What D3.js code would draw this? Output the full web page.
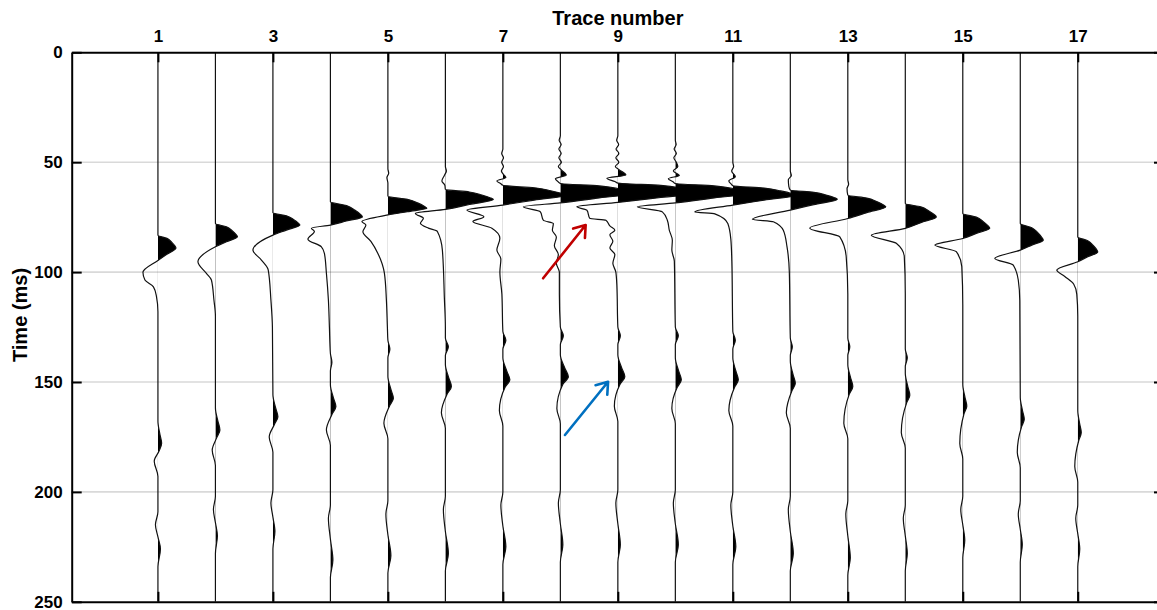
<!DOCTYPE html>
<html>
<head>
<meta charset="utf-8">
<script src="https://cdn.jsdelivr.net/npm/d3@7"></script>
<style>
  html, body { margin: 0; padding: 0; background: #fff; }
  svg { display: block; font-family: "Liberation Sans", Arial, Helvetica, sans-serif; }
</style>
</head>
<body>
<svg id="chart" width="1157" height="610"></svg>
<script>
// ---------------------------------------------------------------
// Shot gather: 17 traces, time in ms, amplitudes in relative units
// ---------------------------------------------------------------
const traceNumbers = d3.range(1, 18);
const traceTicks = [1, 3, 5, 7, 9, 11, 13, 15, 17];
const timeTicks = [0, 50, 100, 150, 200, 250];
const gridTimes = [50, 100, 150, 200];

// Direct arrival picks per trace
const directOnset      = [83.2, 77.9, 73.0, 68.0, 65.5, 62.4, 60.5, 59.7, 59.5, 59.7, 60.7, 62.7, 65.0, 68.8, 73.3, 77.9, 84.0];
const directPeakTime   = [89.0, 83.9, 78.6, 74.9, 71.0, 67.0, 65.0, 64.0, 63.8, 64.0, 65.0, 66.8, 70.3, 74.9, 80.1, 85.5, 90.8];
const directPeakAmp    = [18, 22, 27, 32, 39, 48, 63, 78, 86, 78, 63, 47, 38, 31, 27, 23, 20];
const directZeroTime   = [94.7, 88.5, 83.2, 78.6, 74.0, 71.5, 69.5, 68.5, 68.3, 68.5, 69.5, 71.8, 75.6, 80.1, 84.7, 90.0, 95.3];
const directTroughTime = [100.1, 95.3, 90.0, 85.0, 77.0, 73.3, 71.8, 70.3, 70.3, 70.3, 72.6, 76.0, 80.0, 83.2, 87.7, 93.8, 99.1];
const directTroughAmp  = [-15, -17.5, -20, -22.5, -26, -30, -36, -37, -41, -38, -38, -38, -38, -34, -28, -25.5, -21];

// Coda following the direct trough: [time, amplitude]
const directCoda = [
  [[103.6, -13], [106.7, -4.5], [111, -1.5], [118, 0]],
  [[100.6, -9], [103.6, -4], [112.7, -1.5], [120, 0]],
  [[94.5, -11.5], [99, -4.7], [112.7, -2], [125, -0.5]],
  [[80, -19], [81.5, -16], [88.5, -9], [91.5, -6], [100.5, -4], [112.7, -2], [125, -1]],
  [[78.6, -22], [81.6, -25], [86, -17], [91.5, -10], [100.5, -3.5], [112.7, -1.5], [125, -0.5]],
  [[75.5, -22], [77.8, -25], [80, -17], [81.5, -8], [90, -3], [112, -1], [125, 0]],
  [[74.8, -19], [77, -30], [80, -11], [84.6, -3], [90, -6], [94, -2], [100, -3], [110, -1]],
  [[72.6, -20], [76.4, -17], [77.9, -7], [81, -8], [84, -4], [88, -6], [92, -2], [96, -4], [100, -1], [110, -1]],
  [[71.8, -31], [75.6, -28], [76.4, -12], [79, -8], [81, -3], [83, -8], [86, -5], [89, -8], [92, -3], [96, -5], [100, -2], [106, -1]],
  [[72.6, -13], [76.4, -8], [81, -6], [85.5, -3], [90, -3.5], [95, -1]],
  [[73.5, -18], [77.9, -5], [85, -2], [95, -1]],
  [[77.1, -17], [81, -7], [88.5, -3.3], [100, -1]],
  [[84, -8], [93, -1.6], [110, 0]],
  [[86.9, -9], [93, -1], [110, 0]],
  [[90.7, -6.5], [97.5, -1], [115, 0]],
  [[96.8, -7], [103.6, -2], [113, -0.5]],
  [[102, -13], [105.5, -4], [110, -1], [120, 0]]
];

// Ringing ahead of the direct arrival on the near-source traces
const precursor = [
  [], [], [], [],
  [[53, 0], [55, 0.8], [57, -1], [59.5, 0]],
  [[52, 0], [54, 1], [56, -1], [58.5, -3.5], [60.5, -0.5]],
  [[44, 0], [46, -1.2], [48, 0.6], [50, -1.2], [52, 0.6], [54, -1.5], [55.5, 0.5], [57, 3], [58.5, -6], [59.8, -2]],
  [[38, 0], [40, -1.2], [42, 0.8], [44, -1.5], [46, 0.8], [48, -1.5], [50, 1], [52, -2], [53.5, 1], [55.8, 6], [57.5, -5], [59, -2]],
  [[38, 0], [40, -1.2], [42, 0.8], [44, -1.8], [46, 1], [48, -2], [50, 1], [52, -2.5], [53.5, 1.5], [55.8, 8], [57.3, -11], [58.8, -3]],
  [[40, 0], [42, 0.8], [44, -1.2], [46, 1], [48, -1.5], [50, 1], [52, 2.5], [54, -2], [56, 4], [57.5, -7], [59, -2]],
  [[50, 0], [52, 0.8], [54, -1.2], [56.6, 2.5], [58.5, -4], [60, -1.5]],
  [[54, 0], [56, 1], [58, -2], [61, -1.5]],
  [[58, 0], [60, 0.8], [62, -0.8]],
  [], [], [], []
];

// Weak event ahead of the reflection
const reflPreTime = [0, 0, 0, 141, 135, 134, 131, 129, 129, 129, 131, 134, 134, 139, 0, 0, 0];
const reflPreAmp  = [0, 0, 0, 1.5, 2, 3, 3, 3, 2.5, 3, 2.5, 2, 2, 2, 0, 0, 0];

// Reflection (hyperbolic moveout)
const reflTime    = [177.9, 171.8, 165.8, 161.2, 157.4, 152.0, 149.0, 147.6, 147.6, 149.0, 149.0, 150.6, 152.0, 156.0, 161.0, 167.0, 173.0];
const reflAmp     = [3.7, 4.5, 5, 5.5, 5.5, 6, 7, 8, 7, 6, 5.5, 5, 5, 4.5, 4, 4, 3.5];
const reflDipTime = [186, 181, 175, 171.8, 168.8, 164, 163, 162, 161, 162, 163, 164, 168.8, 173, 178, 182, 188.5];
const reflDipAmp  = [-3.7, -3.2, -3.7, -4, -4, -4, -3.5, -3.5, -3.5, -3.5, -4, -4, -4, -4, -3, -3, -3];

// Late weak arrivals
const lateDipTime = [215, 208, 205, 212, 210, 208, 206, 205, 205, 205, 206, 208, 210, 212, 208, 210, 212];
const lateDipAmp  = [-2.5, -2, -2, -2, -2, -2, -2, -2, -2, -2, -2, -2, -2, -2, -2, -2, -2];
const lateTime    = [226, 220, 218, 231, 229, 228, 225, 224, 224, 224, 225, 228, 230, 228, 222, 224, 226];
const lateAmp     = [2.5, 2, 2, 2.5, 3, 3, 3, 2.5, 2.5, 3, 3, 3, 2.5, 2, 2, 2, 2];

// Annotation arrows: [trace, time] from -> to
const arrows = [
  { color: "#c00000", from: [7.70, 102.8], to: [8.44, 78.6] },
  { color: "#0070c0", from: [8.08, 174.1], to: [8.83, 149.9] }
];

// ---------------------------------------------------------------
const svg = d3.select("#chart");
const x = d3.scaleLinear().domain([-0.5, 18.5]).range([71.7, 1164]);
const y = d3.scaleLinear().domain([0, 250]).range([52.3, 601.8]);
const gain = 1 / 57.5;            // relative amplitude -> trace spacing

const [xl, xr] = x.range();
const [yt, yb] = y.range();

// Knots of one trace, ordered in time
function traceKnots(i) {
  const k = [[0, 0]];
  precursor[i].forEach(p => k.push(p));
  const t0 = directOnset[i], tp = directPeakTime[i], A = directPeakAmp[i], tz = directZeroTime[i];
  const d = tp - t0;
  // shark-fin main lobe: quick rise, rounded shoulder, straight fall
  k.push([t0, 0]);
  k.push([t0 + 0.25 * d, 0.5 * A]);
  k.push([t0 + 0.55 * d, 0.76 * A]);
  k.push([t0 + 0.82 * d, 0.93 * A]);
  k.push([tp, A]);
  k.push([tp + 0.5 * (tz - tp), 0.5 * A]);
  k.push([tz, 0]);
  k.push([directTroughTime[i], directTroughAmp[i]]);
  directCoda[i].forEach(p => k.push(p));
  if (reflPreAmp[i] > 0) {
    const pt = reflPreTime[i];
    k.push([pt - 4, 0], [pt, reflPreAmp[i]], [pt + 4, 0]);
  }
  const rt = reflTime[i], ra = reflAmp[i];
  k.push([rt - 10, 0], [rt - 4, 0.55 * ra], [rt, ra], [rt + 3.5, 0.3 * ra]);
  k.push([reflDipTime[i], reflDipAmp[i]], [reflDipTime[i] + 7, 0]);
  const ld = lateDipTime[i], lt = lateTime[i];
  k.push([ld - 6, 0], [ld, lateDipAmp[i]], [(ld + lt) / 2, 0], [lt, lateAmp[i]], [lt + 8, 0]);
  k.push([250, 0]);
  k.sort((a, b) => a[0] - b[0]);
  const out = [];
  k.forEach(p => {
    if (!out.length || p[0] > out[out.length - 1][0] + 0.05) out.push(p);
  });
  return out;
}

// Grid
svg.append("g")
  .selectAll("line")
  .data(gridTimes)
  .join("line")
  .attr("x1", xl).attr("x2", xr)
  .attr("y1", d => y(d)).attr("y2", d => y(d))
  .attr("stroke", "#d9d9d9")
  .attr("stroke-width", 1.6);

// Plot clip
const defs = svg.append("defs");
defs.append("clipPath").attr("id", "plot-clip")
  .append("rect").attr("x", xl).attr("y", yt).attr("width", xr - xl).attr("height", yb - yt);

const tracesG = svg.append("g").attr("clip-path", "url(#plot-clip)");

traceNumbers.forEach((tn, i) => {
  const knots = traceKnots(i);
  const base = x(tn);
  defs.append("clipPath").attr("id", "pos-" + tn)
    .append("rect").attr("x", base).attr("y", yt).attr("width", 400).attr("height", yb - yt);

  const area = d3.area()
    .curve(d3.curveMonotoneY)
    .y(d => y(d[0]))
    .x0(base)
    .x1(d => x(tn + d[1] * gain));
  const line = d3.line()
    .curve(d3.curveMonotoneY)
    .y(d => y(d[0]))
    .x(d => x(tn + d[1] * gain));

  const g = tracesG.append("g").attr("class", "trace");
  g.append("path")
    .attr("d", area(knots))
    .attr("fill", "#000")
    .attr("clip-path", "url(#pos-" + tn + ")");
  g.append("path")
    .attr("d", line(knots))
    .attr("fill", "none")
    .attr("stroke", "#111")
    .attr("stroke-width", 1.2);
});

// Axes
function styleAxis(g) {
  g.select(".domain").attr("stroke", "#000").attr("stroke-width", 2);
  g.selectAll(".tick line").attr("stroke", "#000").attr("stroke-width", 2);
  g.selectAll(".tick text")
    .attr("fill", "#000")
    .attr("font-size", 17)
    .attr("font-weight", "bold")
    .attr("font-family", "'Liberation Sans', Arial, sans-serif");
}

svg.append("g")
  .attr("transform", `translate(0,${yt})`)
  .call(d3.axisTop(x).tickValues(traceTicks).tickSize(-10).tickSizeOuter(0).tickPadding(10))
  .call(styleAxis);

svg.append("g")
  .attr("transform", `translate(0,${yb})`)
  .call(d3.axisBottom(x).tickValues(traceTicks).tickSize(-10).tickSizeOuter(0).tickFormat(""))
  .call(styleAxis);

svg.append("g")
  .attr("transform", `translate(${xl},0)`)
  .call(d3.axisLeft(y).tickValues(timeTicks).tickSize(-10).tickSizeOuter(0).tickPadding(9))
  .call(styleAxis);

svg.append("g")
  .attr("transform", `translate(${xr},0)`)
  .call(d3.axisRight(y).tickValues(timeTicks).tickSize(-10).tickSizeOuter(0).tickFormat(""))
  .call(styleAxis);

// Axis titles
svg.append("text")
  .attr("x", (xl + xr) / 2)
  .attr("y", 25)
  .attr("text-anchor", "middle")
  .attr("font-size", 20)
  .attr("font-weight", "bold")
  .text("Trace number");

svg.append("text")
  .attr("transform", `translate(27,315) rotate(-90)`)
  .attr("text-anchor", "middle")
  .attr("font-size", 20)
  .attr("font-weight", "bold")
  .text("Time (ms)");

// Arrows
arrows.forEach(a => {
  const x0 = x(a.from[0]), y0 = y(a.from[1]);
  const x1 = x(a.to[0]), y1 = y(a.to[1]);
  const ang = Math.atan2(y0 - y1, x0 - x1);
  const len = 13, spread = 0.62;
  const p1 = [x1 + len * Math.cos(ang + spread), y1 + len * Math.sin(ang + spread)];
  const p2 = [x1 + len * Math.cos(ang - spread), y1 + len * Math.sin(ang - spread)];
  svg.append("path")
    .attr("d", `M${x0},${y0}L${x1},${y1}M${p1[0]},${p1[1]}L${x1},${y1}L${p2[0]},${p2[1]}`)
    .attr("fill", "none")
    .attr("stroke", a.color)
    .attr("stroke-width", 2.6)
    .attr("stroke-linecap", "round")
    .attr("stroke-linejoin", "round");
});
</script>
</body>
</html>
